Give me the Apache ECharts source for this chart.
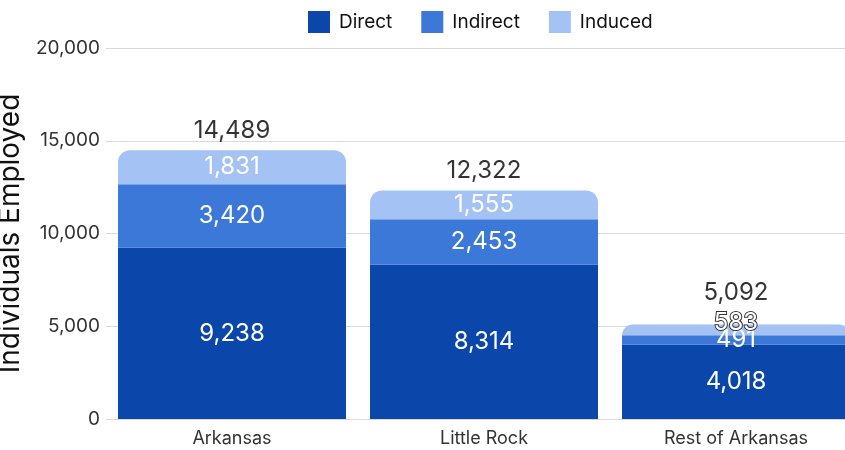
<!DOCTYPE html>
<html>
<head>
<meta charset="utf-8">
<script src="https://cdn.jsdelivr.net/npm/echarts@6/dist/echarts.min.js"></script>
<style>
    html, body { margin: 0; padding: 0; background: #fff; }
    #chart { width: 845px; height: 450px; }
</style>
</head>
<body>
<div id="chart"></div>
<script>
    var categories = ['Arkansas', 'Little Rock', 'Rest of Arkansas'];
    var direct = [9238, 8314, 4018];
    var indirect = [3420, 2453, 491];
    var induced = [1831, 1555, 583];
    var totals = [14489, 12322, 5092];

    var FONT = 'Inter, "Noto Sans", sans-serif';

    const myChart = echarts.init(document.getElementById('chart'));

    function inside(fontSize) {
        return {
            show: true,
            position: 'inside',
            color: '#fff',
            fontSize: fontSize,
            fontFamily: FONT,
            formatter: function (p) { return p.value.toLocaleString('en-US'); }
        };
    }

    // the small induced slice in the last bar gets an outlined label sitting above it
    var inducedData = induced.map(function (v, i) {
        if (i === 2) {
            return {
                value: v,
                label: {
                    position: 'inside',
                    offset: [0, -7],
                    textBorderColor: '#333',
                    textBorderWidth: 2
                }
            };
        }
        return v;
    });

    // the last total is pushed up so it clears the outlined 583 label
    var totalsData = totals.map(function (v, i) {
        if (i === 2) {
            return { value: v, label: { distance: 19 } };
        }
        return v;
    });

    const option = {
        animation: false,
        legend: {
            top: 6,
            left: 303,
            icon: 'rect',
            itemWidth: 22,
            itemHeight: 22,
            itemGap: 29,
            textStyle: { fontSize: 19, color: '#111', fontFamily: FONT, padding: [0, 0, 0, 4] },
            data: ['Direct', 'Indirect', 'Induced']
        },
        grid: { left: 106, top: 48, width: 756, bottom: 31, outerBoundsMode: 'none' },
        xAxis: {
            type: 'category',
            data: categories,
            axisLine: { show: false },
            axisTick: { show: false },
            axisLabel: { fontSize: 18, color: '#333', fontFamily: FONT, margin: 11 }
        },
        yAxis: {
            type: 'value',
            min: 0,
            max: 20000,
            interval: 5000,
            name: 'Individuals Employed',
            nameLocation: 'middle',
            nameGap: 70,
            nameTextStyle: { fontSize: 28, color: '#111', fontFamily: FONT },
            axisLabel: {
                fontSize: 19, color: '#333', fontFamily: FONT, margin: 6,
                formatter: function (v) { return v.toLocaleString('en-US'); }
            },
            splitLine: { lineStyle: { color: '#d9d9d9', width: 1 } }
        },
        series: [
            {
                name: 'Direct', type: 'bar', stack: 'a', barWidth: 228,
                itemStyle: { color: '#0B47AB' },
                label: inside(24),
                data: direct
            },
            {
                name: 'Indirect', type: 'bar', stack: 'a',
                itemStyle: { color: '#3C78D8' },
                label: inside(24),
                data: indirect
            },
            {
                name: 'Induced', type: 'bar', stack: 'a',
                itemStyle: { color: '#A4C2F4', borderRadius: [12, 12, 0, 0] },
                label: inside(24),
                data: inducedData
            },
            {
                name: 'Total', type: 'scatter',
                symbolSize: 1,
                itemStyle: { color: 'rgba(0,0,0,0)' },
                label: {
                    show: true, position: 'top', distance: 7,
                    fontSize: 24, color: '#000', fontFamily: FONT,
                    formatter: function (p) { return p.value.toLocaleString('en-US'); }
                },
                data: totalsData
            }
        ]
    };
    myChart.setOption(option);
</script>
</body>
</html>
